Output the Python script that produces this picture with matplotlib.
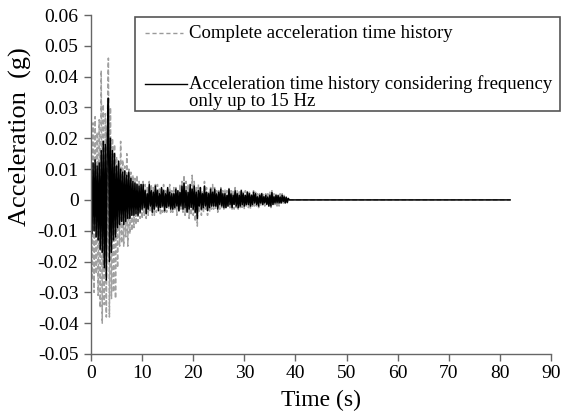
import numpy as np
import matplotlib
matplotlib.use("Agg")
import matplotlib.pyplot as plt
from matplotlib.lines import Line2D
from matplotlib.patches import Rectangle

# ---- data (acceleration in milli-g, sampled every 0.2 s from 0 to 38.8 s) ----
dt = 0.2
end_time = 82.0

complete_mg = [
    8, -26, 25, -30, 27, -24, 22, -31, 26, -35,
    42, -40, 31, -34, 28, -38, 24, 46, -38, 30,
    -32, 20, -30, 18, -32, 14, -22, 12, -15, 19,
    -14, 13, -15, 11, -12, 15, -15, 10, -11, 9,
    -10, 8, -9, 7, -8, 8, -7, 6, -6, 5,
    -6, 6, -5, 5, -6, 4, -5, 6, -4, 5,
    -5, 4, -5, 5, -4, 5, -3, 4, -5, 4,
    -4, 5, -4, 3, -4, 4, -3, 5, -4, 3,
    -4, 4, -3, 4, -5, 3, -4, 5, -3, 6,
    -4, 8, -5, 6, -4, 5, -6, 4, -5, 8,
    -5, 6, -7, 4, -8.5, 5, -4, 4, -5, 3,
    -4, 6, -3, 4, -5, 3, -4, 4, -3, 5,
    -3, 4, -3, 3, -4, 3, -3, 4, -2.5, 3,
    -3, 3.5, -3, 3, -2.5, 4, -3, 3, -3, 3,
    -3, 4, -2.5, 3, -3, 3, -2.5, 3.5, -3, 2.5,
    -3, 3, -2, 3, -2.5, 2.5, -3, 2, -2.5, 3,
    -2, 2.5, -2, 2, -2.5, 2, -2, 2.5, -2, 2,
    -2, 2, -1.5, 2, -2, 2.5, -2.5, 3, -2, 2,
    -1.5, 2, -2, 1.5, -2, 2, -1.5, 2, -1.5, 1.5,
    -1, 1, -1, 0.5, 0,
]

filtered_mg = [
    4, -11, 12, -10, 13, -12, 11, -13, 12, -16,
    16, -17, 19, -22, 18, -26, 22, 33, -20, 20,
    -17, 16, -13, 15, -12, 11, -9, 12.6, -8, 10,
    -7, 9, -8, 9.4, -7, 8, -6, 9, -6, 7,
    -5, 6, -5, 5.5, -4.5, 5, -5, 4.5, -4, 5,
    -3, 5, -2.5, 3, -4.5, 2, -3, 5, -2, 3,
    -4, 2.5, -3, 4.5, -2, 3, -3.5, 2, -2.5, 4,
    -2, 3, -3.5, 2, -2.5, 4, -2, 2.5, -3, 2,
    -3, 2, -2.5, 3.5, -2, 3, -3.5, 2.5, -2, 4.5,
    -3, 5.5, -2.5, 3, -4, 2.5, -3, 5, -2.5, 3.5,
    -3, 4.5, -4, 2.5, -6, 3, -2, 4, -3, 2,
    -2.5, 4.5, -2, 2.5, -3.5, 2, -2.5, 3.5, -2, 2.5,
    -2, 3.5, -2, 2, -3, 2.5, -1.5, 3.5, -2, 2,
    -2.5, 2, -2.5, 1.5, -2, 3.5, -1.5, 2, -2.5, 1.5,
    -1.5, 3, -2, 2, -2.5, 1.5, -2, 3, -1.5, 2,
    -2, 1.5, -1.5, 2.5, -1.5, 2, -2, 1.5, -1.5, 2.5,
    -1, 2, -1.5, 1, -2, 1.5, -1, 2, -1.5, 1,
    -1, 1.5, -1.5, 1, -2, 1.5, -2, 2.4, -1.5, 1,
    -1, 1.5, -1, 1.5, -1, 1, -1, 1.5, -0.5, 1,
    -1, 0.8, -0.8, 0.5, 0,
]

legend_labels = ["Complete acceleration time history",
                 "Acceleration time history considering frequency",
                 "only up to 15 Hz"]
x_ticks = list(range(0, 100, 10))
y_ticks = [-0.05, -0.04, -0.03, -0.02, -0.01, 0, 0.01, 0.02, 0.03, 0.04, 0.05, 0.06]

# ---- build series ----
t = np.arange(len(complete_mg)) * dt
t = np.append(t, end_time)
complete = np.append(np.array(complete_mg) * 0.001, 0.0)
filtered = np.append(np.array(filtered_mg) * 0.001, 0.0)

plt.rcParams['font.family'] = ['Liberation Serif', 'DejaVu Serif']
plt.rcParams['axes.unicode_minus'] = False

fig = plt.figure(figsize=(5.61, 4.16), dpi=100)
W, H = 561, 416
L, R, T, B = 91, 551, 15, 354
ax = fig.add_axes([L / W, 1 - B / H, (R - L) / W, (B - T) / H])

ax.plot(t, complete, color='#a0a0a0', lw=1.1, linestyle=(0, (3, 1.6)))
ax.plot(t, filtered, color='black', lw=1.1)

ax.set_xlim(0, 90)
ax.set_ylim(-0.05, 0.06)
ax.set_xticks(x_ticks)
ax.set_yticks(y_ticks)
ax.set_yticklabels(['0' if abs(v) < 1e-12 else f'{v:.2f}' for v in y_ticks])
ax.set_xticklabels([str(v) for v in x_ticks])

for s in ['top', 'right']:
    ax.spines[s].set_visible(False)
for s in ['left', 'bottom']:
    ax.spines[s].set_color('#666666')
    ax.spines[s].set_linewidth(1.0)
ax.tick_params(axis='both', direction='out', length=5, width=1.0, color='#666666',
               labelsize=14)
ax.tick_params(axis='y', pad=4)
ax.tick_params(axis='x', pad=3)

ax.set_xlabel('Time (s)', fontsize=17)
ax.xaxis.set_label_coords(0.5, (B - 400) / (B - T))
ax.xaxis.label.set_va('center')
ax.set_ylabel('Acceleration  (g)', fontsize=19)
ax.yaxis.set_label_coords((20 - L) / (R - L), (B - 137) / (B - T))
ax.yaxis.label.set_va('center')

# ---- legend box (drawn in axes fraction) ----
def fx(px):
    return (px - L) / (R - L)

def fy(py):
    return (B - py) / (B - T)

box = Rectangle((fx(135), fy(111)), fx(560) - fx(135), fy(17) - fy(111),
                transform=ax.transAxes, fill=True, facecolor='white',
                edgecolor='#555555', lw=1.2, clip_on=False, zorder=5)
ax.add_patch(box)
ax.add_line(Line2D([fx(145), fx(183)], [fy(33), fy(33)], transform=ax.transAxes,
                   color='#9a9a9a', lw=1.0, linestyle=(0, (3, 2)), zorder=6, clip_on=False))
ax.add_line(Line2D([fx(145), fx(187)], [fy(84), fy(84)], transform=ax.transAxes,
                   color='black', lw=1.0, zorder=6, clip_on=False))
for lab, py in zip(legend_labels, [33, 84, 102]):
    ax.text(fx(189), fy(py), lab, transform=ax.transAxes, fontsize=13.5,
            va='center', ha='left', zorder=7)

fig.savefig('out.png', dpi=100)
